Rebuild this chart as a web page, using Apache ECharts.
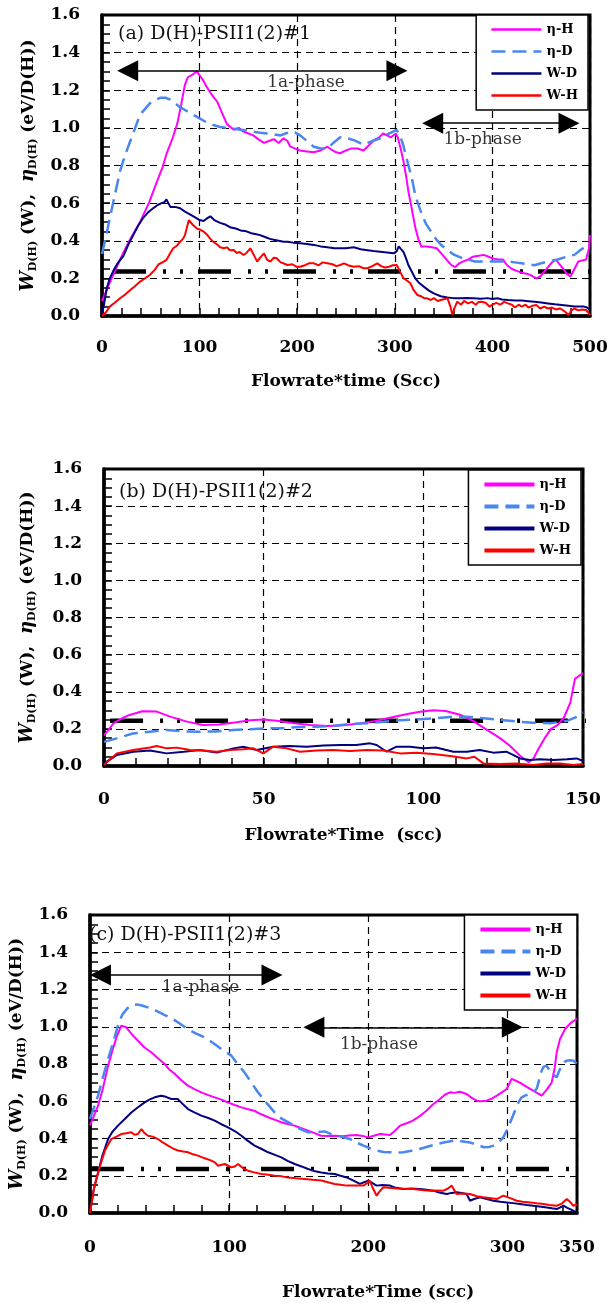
<!DOCTYPE html>
<html><head><meta charset="utf-8">
<script src="https://cdn.jsdelivr.net/npm/echarts@6/dist/echarts.min.js"></script>
<style>html,body{margin:0;padding:0;background:#fff}#c{width:611px;height:1306px}</style>
</head><body><div id="c"></div>
<script>
// ---------------- DATA ----------------
const seriesNames = ['η-H', 'η-D', 'W-D', 'W-H'];

// Panel (a)
const etaH_A = [[0,0.08],[9,0.19],[18.5,0.30],[28,0.40],[39,0.50],[48,0.60],[56,0.71],[62,0.79],[66,0.86],[72,0.94],[77,1.02],[81,1.12],[85,1.23],[88,1.27],[92,1.28],[97,1.30],[100,1.28],[104,1.25],[107,1.22],[112,1.18],[118,1.14],[123,1.08],[128,1.02],[135,0.99],[140,1.0],[145,0.98],[150,0.97],[155,0.96],[160,0.94],[166,0.92],[171,0.93],[176,0.94],[181,0.92],[186,0.945],[190,0.93],[193,0.90],[198,0.89],[203,0.88],[210,0.875],[217,0.87],[224,0.88],[231,0.90],[235,0.885],[240,0.87],[244,0.865],[250,0.88],[255,0.89],[262,0.89],[268,0.88],[274,0.91],[279,0.935],[284,0.95],[288,0.97],[292,0.96],[296,0.95],[301,0.97],[303,0.95],[306,0.89],[309,0.82],[312,0.73],[314,0.66],[317,0.58],[321,0.47],[324,0.41],[327,0.37],[333,0.37],[338,0.365],[343,0.36],[348,0.33],[353,0.30],[358,0.27],[362,0.26],[366,0.28],[370,0.29],[375,0.30],[380,0.315],[386,0.32],[391,0.325],[396,0.315],[401,0.305],[406,0.30],[411,0.30],[415,0.27],[420,0.25],[425,0.24],[430,0.23],[435,0.225],[440,0.215],[445,0.20],[449,0.21],[453,0.235],[457,0.26],[461,0.285],[465,0.30],[468,0.28],[472,0.255],[476,0.225],[480,0.21],[484,0.25],[488,0.29],[492,0.295],[496,0.30],[499,0.36],[500,0.43]];
const etaD_A = [[0,0.33],[4,0.42],[8,0.52],[13,0.64],[18.5,0.77],[24,0.86],[29,0.93],[34,1.0],[39,1.07],[44,1.10],[49,1.13],[55,1.15],[60,1.16],[65,1.16],[70,1.15],[75,1.13],[80,1.11],[85,1.095],[90,1.08],[95,1.065],[100,1.05],[107,1.03],[114,1.015],[121,1.005],[128,1.0],[135,0.995],[142,0.99],[150,0.985],[160,0.975],[169,0.97],[176,0.965],[183,0.96],[188,0.97],[193,0.98],[198,0.975],[203,0.96],[210,0.93],[217,0.90],[224,0.89],[231,0.89],[237,0.92],[244,0.95],[251,0.945],[258,0.935],[264,0.92],[268,0.91],[272,0.92],[277,0.93],[285,0.945],[290,0.96],[296,0.975],[302,0.99],[305,0.96],[308,0.92],[311,0.86],[314,0.80],[318,0.72],[321,0.64],[325,0.58],[328,0.535],[332,0.49],[337,0.45],[342,0.41],[347,0.38],[354,0.35],[361,0.325],[368,0.31],[375,0.30],[382,0.29],[389,0.29],[395,0.29],[401,0.29],[408,0.29],[416,0.29],[423,0.285],[430,0.28],[437,0.275],[443,0.27],[450,0.28],[457,0.29],[462,0.295],[467,0.30],[473,0.31],[478,0.32],[484,0.325],[490,0.35],[496,0.37],[500,0.38]];
const wD_A = [[0,0.01],[2,0.06],[5,0.15],[8,0.2],[11.6,0.24],[16,0.28],[22,0.32],[27,0.38],[32,0.43],[37,0.48],[42,0.52],[47,0.55],[53,0.575],[57,0.59],[61,0.60],[64,0.605],[66,0.62],[68,0.60],[70,0.58],[75,0.58],[80,0.573],[85,0.555],[90,0.54],[95,0.525],[100,0.51],[104,0.505],[108,0.52],[111,0.53],[115,0.51],[121,0.495],[127,0.485],[132,0.47],[137,0.465],[142,0.455],[148,0.45],[153,0.44],[158,0.435],[162,0.43],[167,0.42],[172,0.41],[176,0.405],[181,0.40],[186,0.395],[190,0.395],[196,0.39],[203,0.387],[210,0.383],[217,0.378],[224,0.37],[231,0.365],[238,0.36],[244,0.36],[250,0.36],[258,0.365],[265,0.355],[272,0.35],[278,0.345],[285,0.342],[292,0.338],[299,0.333],[302,0.345],[304,0.37],[306,0.36],[309,0.34],[312,0.3],[314,0.27],[318,0.23],[321,0.20],[325,0.175],[330,0.155],[335,0.135],[340,0.12],[347,0.105],[354,0.098],[360,0.095],[367,0.094],[374,0.096],[381,0.094],[388,0.092],[395,0.095],[400,0.09],[405,0.094],[410,0.088],[416,0.085],[423,0.083],[430,0.082],[437,0.079],[443,0.076],[450,0.072],[457,0.067],[464,0.062],[471,0.058],[478,0.054],[484,0.05],[490,0.05],[494,0.05],[497,0.045],[500,0.032]];
const wH_A = [[0,0],[4,0.02],[8,0.05],[13,0.07],[18.5,0.094],[24,0.115],[29,0.138],[34,0.16],[39,0.183],[44,0.20],[49,0.218],[54,0.245],[58,0.275],[62,0.285],[66,0.298],[70,0.335],[73,0.36],[77,0.375],[80,0.395],[83,0.41],[85,0.43],[87,0.47],[89,0.51],[91,0.50],[93,0.485],[97,0.466],[100,0.46],[104,0.449],[108,0.43],[111,0.41],[114,0.395],[118,0.38],[121,0.365],[125,0.36],[128,0.365],[131,0.35],[135,0.351],[138,0.335],[141,0.34],[145,0.324],[148,0.335],[152,0.36],[155,0.33],[159,0.289],[162,0.31],[166,0.333],[169,0.30],[172.5,0.289],[176,0.31],[179,0.307],[183,0.285],[186,0.28],[190,0.271],[195,0.275],[199,0.262],[203,0.262],[208,0.27],[212,0.28],[217,0.28],[222,0.27],[226,0.285],[231,0.28],[236,0.275],[240,0.265],[244,0.271],[248,0.28],[252,0.27],[258,0.262],[263,0.265],[268,0.254],[272,0.254],[277,0.265],[282,0.28],[286,0.265],[290,0.258],[294,0.262],[298,0.27],[302,0.271],[305,0.24],[309,0.20],[312,0.19],[316,0.174],[319,0.14],[323,0.112],[327,0.105],[330,0.095],[333,0.094],[337,0.085],[340,0.095],[344,0.08],[347,0.085],[351,0.09],[354,0.094],[357,0.05],[359,0.005],[361,0.04],[364,0.076],[368,0.06],[371,0.08],[375,0.067],[379,0.075],[383,0.06],[386,0.075],[389,0.076],[393,0.07],[397,0.05],[400,0.06],[404,0.07],[408,0.06],[412,0.075],[416,0.067],[420,0.06],[423,0.045],[427,0.06],[430,0.05],[434,0.06],[437,0.045],[441,0.055],[445,0.058],[449,0.04],[453,0.05],[457,0.04],[461,0.045],[465,0.035],[469,0.04],[472,0.032],[475,0.02],[478,0.005],[481,0.03],[484,0.04],[488,0.03],[492,0.035],[496,0.032],[498,0.02],[500,0.005]];

// Panel (b)
const etaH_B = [[0,0.165],[3,0.23],[6,0.26],[8,0.275],[12,0.295],[16.5,0.293],[20.7,0.266],[26,0.239],[31,0.221],[36,0.224],[41.5,0.236],[45.7,0.246],[50,0.25],[54,0.244],[59,0.232],[64.5,0.221],[70,0.215],[75,0.22],[80,0.229],[85,0.242],[90.6,0.264],[95,0.28],[99,0.292],[103,0.30],[107,0.296],[111.5,0.276],[115.7,0.242],[119.8,0.196],[124,0.15],[127,0.11],[130.3,0.055],[133,0.02],[134.5,0.04],[136,0.09],[138,0.15],[140,0.2],[142,0.22],[144,0.26],[146,0.34],[147.5,0.47],[150,0.5]];
const etaD_B = [[0,0.13],[4,0.149],[9,0.175],[14.4,0.185],[19.6,0.194],[25,0.186],[30,0.185],[35,0.186],[40.5,0.194],[45.7,0.198],[51,0.203],[56,0.204],[61.4,0.21],[66.6,0.212],[71.8,0.216],[77,0.226],[82.3,0.23],[87.5,0.238],[92.7,0.247],[98,0.251],[103,0.257],[108.4,0.264],[113.6,0.265],[118.8,0.257],[124,0.248],[129,0.24],[134.4,0.233],[139.7,0.23],[145,0.243],[148,0.265],[150,0.29]];
const wD_B = [[0,0.014],[4,0.059],[9.2,0.077],[14.4,0.083],[19.6,0.068],[25,0.077],[30,0.086],[35.3,0.072],[40.5,0.095],[43.6,0.104],[47.8,0.086],[53,0.104],[58,0.108],[63.5,0.104],[68.7,0.11],[74,0.113],[79,0.113],[83.3,0.122],[85.4,0.113],[88.5,0.077],[91.6,0.104],[95.8,0.104],[100,0.095],[104,0.10],[109.4,0.077],[113.6,0.077],[117.7,0.086],[121.9,0.072],[126,0.077],[130.3,0.041],[133.4,0.032],[136.6,0.036],[140.7,0.032],[145,0.036],[148,0.041],[150,0.027]];
const wH_B = [[0,0.005],[4,0.068],[9.2,0.086],[14.4,0.10],[16.5,0.108],[19.6,0.095],[22.8,0.099],[27,0.086],[31,0.083],[35.3,0.077],[39.5,0.086],[43.6,0.09],[46.8,0.095],[49.9,0.068],[53,0.104],[57.2,0.095],[61.4,0.077],[66.6,0.083],[71.8,0.086],[77,0.081],[82.3,0.086],[87.5,0.083],[92.7,0.068],[97.9,0.072],[103,0.065],[108.4,0.054],[113.6,0.041],[116,0.05],[118.8,0.014],[124,0.011],[129,0.014],[134.4,0.005],[138.6,0.014],[142.8,0.014],[147,0.005],[150,0.011]];

// Panel (c)
const etaH_C = [[0,0.47],[5.8,0.576],[9,0.66],[13,0.79],[16,0.87],[19,0.943],[22.5,1.006],[26,0.997],[30,0.96],[34.5,0.925],[39,0.89],[44,0.863],[49,0.83],[53.7,0.80],[57,0.77],[61,0.746],[66,0.71],[70.4,0.684],[75,0.665],[80,0.648],[85,0.633],[89.6,0.621],[94,0.61],[99,0.594],[104,0.58],[108.8,0.567],[113,0.558],[118,0.549],[123,0.53],[128,0.514],[133,0.50],[137.5,0.487],[142,0.478],[147,0.469],[152,0.455],[156.7,0.442],[161,0.43],[166,0.415],[171,0.413],[176,0.415],[182,0.412],[186,0.416],[191.6,0.419],[196,0.413],[200,0.406],[204,0.415],[208.4,0.424],[215.6,0.419],[219,0.44],[222.8,0.469],[228,0.483],[232,0.496],[237,0.52],[241.8,0.549],[246,0.58],[251.5,0.612],[255,0.635],[258.7,0.648],[262,0.645],[265.9,0.651],[270.7,0.639],[274,0.62],[277.9,0.603],[281,0.60],[285,0.603],[289,0.615],[292.4,0.63],[296,0.648],[299.5,0.666],[303,0.72],[306,0.71],[309,0.70],[312,0.685],[316.3,0.666],[320,0.65],[324.6,0.63],[328,0.66],[331.8,0.70],[334,0.78],[335.4,0.863],[337.8,0.934],[341.4,0.988],[346,1.024],[350,1.042]];
const etaD_C = [[0,0.505],[5.8,0.63],[9,0.72],[13,0.827],[16,0.90],[18.7,0.97],[21,1.03],[23.5,1.068],[27,1.10],[30.7,1.117],[34,1.12],[37.9,1.113],[43,1.10],[47.4,1.086],[53,1.065],[59.4,1.042],[65,1.015],[70,0.988],[76,0.965],[82.4,0.943],[88,0.915],[94.4,0.88],[101.6,0.845],[106,0.80],[111,0.755],[116,0.70],[120.7,0.648],[127,0.59],[132.7,0.54],[138,0.505],[144.7,0.478],[150,0.455],[156.7,0.433],[163,0.435],[168.7,0.438],[173,0.425],[177.3,0.415],[182,0.407],[186.9,0.397],[191,0.38],[196.5,0.362],[201,0.348],[206,0.335],[211,0.328],[215.6,0.326],[220,0.325],[225.2,0.326],[231,0.334],[237,0.344],[243,0.357],[249,0.37],[255,0.38],[261,0.388],[267,0.385],[273,0.379],[278,0.367],[283,0.353],[287,0.355],[290,0.362],[294,0.38],[297,0.406],[300,0.45],[303,0.505],[305.5,0.55],[308,0.594],[310,0.62],[312.6,0.63],[316,0.639],[318,0.645],[321,0.666],[323,0.72],[324.6,0.764],[326,0.785],[328,0.791],[330,0.77],[331.8,0.755],[333.5,0.74],[335.4,0.728],[337,0.76],[339,0.791],[341,0.81],[342.6,0.818],[345,0.82],[347.4,0.818],[350,0.80]];
const wD_C = [[0,0],[2.5,0.12],[5.8,0.218],[9,0.31],[13,0.397],[16,0.435],[20.1,0.469],[25,0.505],[29.7,0.54],[34,0.565],[39.3,0.594],[43,0.61],[46.5,0.621],[51,0.63],[54,0.625],[58.4,0.612],[63,0.612],[66,0.59],[70.4,0.558],[75,0.54],[80,0.523],[85,0.51],[89.6,0.496],[94,0.478],[99.2,0.46],[104,0.44],[108.8,0.415],[113,0.39],[118.3,0.362],[123,0.345],[128,0.326],[132,0.315],[137.5,0.299],[142,0.28],[147.1,0.263],[152,0.25],[156.7,0.236],[161,0.226],[166.2,0.218],[171,0.212],[175.8,0.209],[180,0.2],[184.5,0.191],[189,0.175],[194,0.156],[197,0.165],[200,0.174],[203,0.16],[206,0.147],[210,0.15],[215.6,0.147],[220,0.135],[225,0.129],[231,0.131],[237,0.129],[242,0.125],[246.7,0.12],[251,0.11],[256.3,0.102],[260,0.108],[263.5,0.111],[267,0.107],[270.7,0.102],[273.1,0.066],[276,0.075],[280.3,0.084],[285,0.075],[289.9,0.066],[295,0.06],[299.5,0.057],[304,0.053],[309,0.048],[314,0.043],[318.7,0.039],[323,0.035],[328.3,0.03],[332,0.025],[335.4,0.021],[338,0.03],[340.2,0.039],[343,0.028],[345,0.021],[348,0.01],[350,0.004]];
const wH_C = [[0,0],[3.3,0.147],[8,0.272],[11,0.34],[15.3,0.397],[19,0.41],[22.5,0.424],[26,0.428],[29.7,0.433],[32,0.42],[34.5,0.424],[37,0.451],[39,0.43],[41.7,0.415],[45,0.41],[48.9,0.397],[52,0.38],[56.1,0.362],[60,0.345],[63.3,0.335],[67,0.33],[70.4,0.326],[74,0.315],[77.6,0.308],[82,0.295],[87.2,0.281],[90,0.27],[92,0.254],[96.8,0.263],[99,0.255],[101.6,0.245],[104,0.25],[106.4,0.263],[110,0.24],[113.6,0.227],[118,0.218],[123.1,0.209],[128,0.205],[132.7,0.20],[137,0.198],[142.3,0.191],[148,0.186],[154.3,0.183],[160,0.178],[166.2,0.174],[171,0.165],[175.8,0.156],[180,0.152],[184.5,0.147],[190,0.148],[196.5,0.147],[199,0.16],[201,0.174],[203.5,0.13],[206,0.093],[208,0.115],[210.8,0.138],[215,0.135],[220.4,0.132],[226,0.13],[232.4,0.129],[238,0.124],[244.3,0.12],[249,0.121],[254,0.12],[257,0.13],[260,0.147],[262,0.12],[263.5,0.102],[268,0.105],[273.1,0.102],[278,0.09],[282.7,0.084],[287,0.08],[292.4,0.075],[295,0.085],[297.1,0.093],[302,0.08],[306.7,0.066],[311,0.06],[316.3,0.057],[321,0.052],[325.9,0.048],[330,0.043],[335.4,0.039],[339,0.05],[342.6,0.075],[345,0.06],[347.4,0.039],[350,0.048]];

// Threshold (dash-dot-dot) lines: [xStart, xEnd, y]
const thr_A = [11.3, 518, 0.236];
const thr_B = [1.9, 158, 0.244];
const thr_C = [0.7, 361.5, 0.236];

// Phase arrows: [xFrom, xTo, y]  and phase labels: [text, x, y]
const arrows_A = [[26.3, 302.2, 1.303], [338.8, 478.5, 1.025]];
const labels_A = [['1a-phase', 209, 1.239], ['1b-phase', 390, 0.936]];
const arrows_B = [];
const labels_B = [];
const arrows_C = [[7.5, 130.8, 1.278], [160.9, 303.5, 0.997]];
const labels_C = [['1a-phase', 79.4, 1.212], ['1b-phase', 207.7, 0.902]];

// Axis ranges & texts
const xMax = [500, 150, 350];
const xInterval = [100, 50, 100];
const yTicks = [0, 0.2, 0.4, 0.6, 0.8, 1.0, 1.2, 1.4, 1.6];
const xTitles = ['Flowrate*time (Scc)', 'Flowrate*Time  (scc)', 'Flowrate*Time (scc)'];
const panelTitles = ['(a) D(H)-PSII1(2)#1', '(b) D(H)-PSII1(2)#2', '(c) D(H)-PSII1(2)#3'];

// ---------------- STYLE / LAYOUT ----------------
const SERIF = 'DejaVu Serif';
const colors = ['#FF00FF', '#4A86F0', '#000080', '#FF0000'];
const grids = [
  {left: 102, top: 15, width: 488, height: 301},
  {left: 104, top: 469, width: 479, height: 297},
  {left: 90, top: 915, width: 487, height: 298}
];
const yNameGap = [63, 66, 60];
const xNameGap = [57, 61, 71];
const xLabelOffset = [23, 25, 26];
const titlePos = [{left: 118, top: 25}, {left: 119, top: 483}, {left: 89, top: 926}];
const xTitleC = {left: 282, top: 1284};
const legendPos = [{right: 23, top: 15}, {right: 30, top: 470}, {right: 34, top: 915}];
const legendLineW = [2.5, 4, 4];

const panelData = [
  [etaH_A, etaD_A, wD_A, wH_A],
  [etaH_B, etaD_B, wD_B, wH_B],
  [etaH_C, etaD_C, wD_C, wH_C]
];
const thrs = [thr_A, thr_B, thr_C];
const arrows = [arrows_A, arrows_B, arrows_C];
const labels = [labels_A, labels_B, labels_C];

const yName = '{i|W}{s|D(H)}{t| (W),  }{i|η}{s|D(H)}{t| (eV/D(H))}';
const boldTxt = {fontFamily: SERIF, fontWeight: 'bold', fontSize: 17, color: '#000'};
const tickLine = {color: '#000', width: 1.5};

const titles = panelTitles.map((t, i) => Object.assign({
  text: t, padding: 0,
  textStyle: {fontFamily: SERIF, fontSize: 19, fontWeight: 'normal', color: '#111'}
}, titlePos[i]));
titles.push(Object.assign({text: xTitles[2], padding: 0, textStyle: Object.assign({}, boldTxt)}, xTitleC));

// main x axes: frame line, ticks, grid lines, title (labels drawn by the offset label axes)
const mainX = [0,1,2].map(i => ({
  gridIndex: i, type: 'value', position: 'bottom', min: 0, max: xMax[i], interval: xInterval[i],
  name: i === 2 ? '' : xTitles[i], nameLocation: 'middle', nameGap: xNameGap[i],
  nameTextStyle: Object.assign({}, boldTxt),
  axisLine: {show: true, onZero: false, lineStyle: {color: '#000', width: 3.5}},
  axisTick: {show: true, inside: true, length: 8, lineStyle: tickLine},
  minorTick: {show: true, splitNumber: 5, length: 8, lineStyle: tickLine},
  axisLabel: {show: false},
  splitLine: {show: true, lineStyle: {color: '#000', type: [7, 5], width: 1.2}}
}));
// tick-label axes, shifted down by offset
const labelX = [0,1,2].map(i => ({
  gridIndex: i, type: 'value', position: 'bottom', offset: xLabelOffset[i],
  min: 0, max: xMax[i], interval: xInterval[i],
  axisLine: {show: false, onZero: false}, axisTick: {show: false},
  splitLine: {show: false},
  axisLabel: Object.assign({show: true, margin: 0}, boldTxt)
}));

const option = {
  animation: false,
  backgroundColor: '#fff',
  grid: grids.map(g => Object.assign({show: true, borderColor: '#000', borderWidth: 3}, g)),
  title: titles,
  legend: [0,1,2].map(i => Object.assign({
    orient: 'vertical', data: seriesNames, selectedMode: false,
    itemWidth: 50, itemHeight: 14, itemGap: 9,
    padding: [8, 10, 8, 14],
    backgroundColor: '#fff', borderColor: '#000', borderWidth: 1.5,
    textStyle: {fontFamily: SERIF, fontWeight: 'bold', fontSize: 13, color: '#000'},
    itemStyle: {opacity: 0, borderWidth: 0},
    lineStyle: {width: legendLineW[i]}
  }, legendPos[i])),
  xAxis: mainX.concat(labelX),
  yAxis: [0,1,2].map(i => ({
    gridIndex: i, type: 'value', min: yTicks[0], max: yTicks[yTicks.length-1], interval: 0.2,
    name: yName, nameLocation: 'middle', nameGap: yNameGap[i], nameRotate: 90,
    nameTextStyle: Object.assign({
      rich: {
        i: Object.assign({}, boldTxt, {fontStyle: 'italic', fontSize: 18}),
        s: Object.assign({}, boldTxt, {fontSize: 11, padding: [10, 0, 0, 0]}),
        t: Object.assign({}, boldTxt)
      }
    }, boldTxt),
    axisLine: {show: true, onZero: false, lineStyle: {color: '#000', width: 3.5}},
    axisTick: {show: true, inside: true, length: 8, lineStyle: tickLine},
    minorTick: {show: true, splitNumber: 4, length: 8, lineStyle: tickLine},
    axisLabel: Object.assign({margin: 22, formatter: v => v.toFixed(1)}, boldTxt),
    splitLine: {show: true, lineStyle: {color: '#000', type: [7, 5], width: 1.2}}
  })),
  series: []
};

for (let i = 0; i < 3; i++) {
  const t = thrs[i];
  option.series.push({
    type: 'line', name: 'threshold', xAxisIndex: i, yAxisIndex: i, clip: false, silent: true,
    data: [[t[0], t[2]], [t[1], t[2]]], symbol: 'none',
    lineStyle: {color: '#000', width: 4.5, type: [33, 17, 3, 14, 3, 15], cap: 'butt'},
    z: 2
  });
  panelData[i].forEach((d, k) => {
    option.series.push({
      type: 'line', name: seriesNames[k], xAxisIndex: i, yAxisIndex: i,
      data: d, symbol: 'none', showSymbol: false, silent: true,
      lineStyle: {color: colors[k], width: k === 1 ? 2.5 : 2, type: k === 1 ? [14, 7] : 'solid'},
      itemStyle: {color: colors[k]},
      z: 3
    });
  });
  if (arrows[i].length || labels[i].length) {
    option.series.push({
      type: 'scatter', name: 'annot', xAxisIndex: i, yAxisIndex: i, silent: true,
      symbolSize: 0, itemStyle: {color: '#000'},
      data: labels[i].map(l => ({name: l[0], value: [l[1], l[2]]})),
      label: {show: true, position: 'inside', formatter: '{b}', fontFamily: SERIF, fontSize: 17, color: '#000'},
      markLine: {
        silent: true, symbol: ['triangle', 'triangle'], symbolSize: 21,
        label: {show: false}, emphasis: {disabled: true},
        itemStyle: {color: '#000'},
        lineStyle: {color: '#000', width: 1.6, type: 'solid', opacity: 1},
        data: arrows[i].map(a => [{coord: [a[0], a[2]]}, {coord: [a[1], a[2]]}])
      },
      z: 4
    });
  }
}

const chart = echarts.init(document.getElementById('c'), null, {renderer: 'canvas'});
chart.setOption(option);
</script>
</body></html>
